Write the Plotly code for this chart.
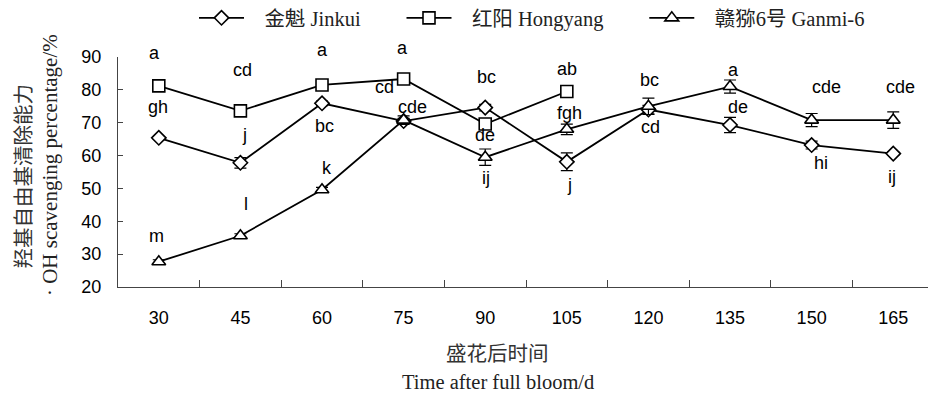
import plotly.graph_objects as go

# Days after full bloom
days = ["30", "45", "60", "75", "90", "105", "120", "135", "150", "165"]

# Hydroxyl radical scavenging percentage (%) and standard errors
jinkui = [65.4, 57.8, 75.9, 70.5, 74.6, 58.1, 74.0, 69.3, 63.2, 60.6]
jinkui_err = [0.4, 1.6, 0.7, 0.8, 1.0, 2.7, 1.3, 2.3, 1.2, 0.5]
hongyang = [81.2, 73.6, 81.5, 83.3, 69.6, 79.5]
hongyang_err = [0.5, 0.6, 0.6, 1.2, 1.0, 0.5]
ganmi = [27.7, 35.6, 49.6, 70.8, 59.5, 68.0, 75.0, 81.0, 70.8, 70.8]
ganmi_err = [0.6, 0.6, 0.7, 1.3, 2.5, 1.6, 2.5, 2.0, 2.0, 2.5]

# Significance letters
jinkui_sig = ["gh", "j", "bc", "cd", "bc", "j", "cd", "de", "hi", "ij"]
hongyang_sig = ["a", "cd", "a", "a", "de", "ab"]
ganmi_sig = ["m", "l", "k", "cde", "ij", "fgh", "bc", "a", "cde", "cde"]

# Letter placement relative to each point, in pixels (right, down)
jinkui_off = [(-1, -31), (4, -28), (2, 23), (-19, -34), (1, -31),
              (3, 23), (2, 17), (8, -18), (9, 18), (-1, 23)]
hongyang_off = [(-4, -33), (2, -41), (0, -35), (-1, -31), (0, 11), (0, -23)]
ganmi_off = [(-2, -26), (6, -32), (5, -22), (9, -13), (1, 21),
             (3, -16), (1, -26), (3, -17), (15, -33), (7, -33)]

sans = "Liberation Sans, Arial, sans-serif"
serif = "Liberation Serif, Times New Roman, Noto Sans CJK SC, serif"
cjk = "Noto Sans CJK SC, sans-serif"
NB = "\u00a0"

fig = go.Figure()

series = [
    ("金魁 Jinkui", jinkui, jinkui_err, "diamond", 11),
    ("红阳 Hongyang", hongyang, hongyang_err, "square", 12),
    ("赣猕6号 Ganmi-6", ganmi, ganmi_err, "triangle-up", 12),
]
for k, (name, vals, errs, sym, size) in enumerate(series):
    tail = NB * 7 if k < 2 else ""
    fig.add_trace(go.Scatter(
        x=days[:len(vals)], y=vals, name=NB * 3 + name + tail,
        mode="lines+markers",
        line=dict(color="black", width=1.8),
        marker=dict(symbol=sym, size=size, color="white",
                    line=dict(color="black", width=1.6)),
        error_y=dict(type="data", array=errs, visible=True,
                     color="black", thickness=1.2, width=6),
    ))

annotations = []
for vals, sig, off in [(jinkui, jinkui_sig, jinkui_off),
                       (hongyang, hongyang_sig, hongyang_off),
                       (ganmi, ganmi_sig, ganmi_off)]:
    for i, (v, s, (dx, dy)) in enumerate(zip(vals, sig, off)):
        annotations.append(dict(
            x=i, y=v, xref="x", yref="y", text=s, showarrow=False,
            xanchor="center", yanchor="middle",
            xshift=dx, yshift=-dy, font=dict(family=sans, size=18, color="black"),
        ))

# Axis titles
title_common = dict(xref="paper", yref="paper", showarrow=False,
                    xanchor="center", yanchor="middle")
annotations += [
    dict(x=-0.1185, y=0.48, text="羟基自由基清除能力", textangle=-90,
         font=dict(family=cjk, size=20.5, color="#333"), **title_common),
    dict(x=-0.084, y=0.53, text="· OH scavenging percentage/%", textangle=-90,
         font=dict(family=serif, size=21, color="#222"), **title_common),
    dict(x=0.469, y=-0.283, text="盛花后时间",
         font=dict(family=cjk, size=20.5, color="#333"), **title_common),
    dict(x=0.469, y=-0.413, text="Time after full bloom/d",
         font=dict(family=serif, size=20.5, color="#222"), **title_common),
]

fig.update_layout(
    width=928, height=399,
    margin=dict(l=118, r=0, t=57, b=112),
    paper_bgcolor="white", plot_bgcolor="white",
    showlegend=True,
    legend=dict(orientation="h", xref="container", yref="container",
                x=532 / 928, xanchor="center", y=1 - 18 / 399, yanchor="middle",
                font=dict(family=serif, size=20.5, color="#222"),
                itemwidth=45, bgcolor="rgba(0,0,0,0)"),
    annotations=annotations,
)

fig.update_xaxes(
    type="category", range=[-0.5, 9.426],
    showline=True, linecolor="#444", linewidth=1.2,
    ticks="inside", ticklen=7, tickcolor="#444", tickson="boundaries",
    ticklabelstandoff=14,
    tickfont=dict(family=sans, size=18, color="black"),
    showgrid=False, zeroline=False,
)
fig.update_yaxes(
    range=[20, 90], dtick=10,
    showline=True, linecolor="#444", linewidth=1.2,
    ticks="inside", ticklen=5, tickcolor="#444",
    ticklabelstandoff=12,
    tickfont=dict(family=sans, size=18, color="black"),
    showgrid=False, zeroline=False,
)

fig.write_html("out.html")
